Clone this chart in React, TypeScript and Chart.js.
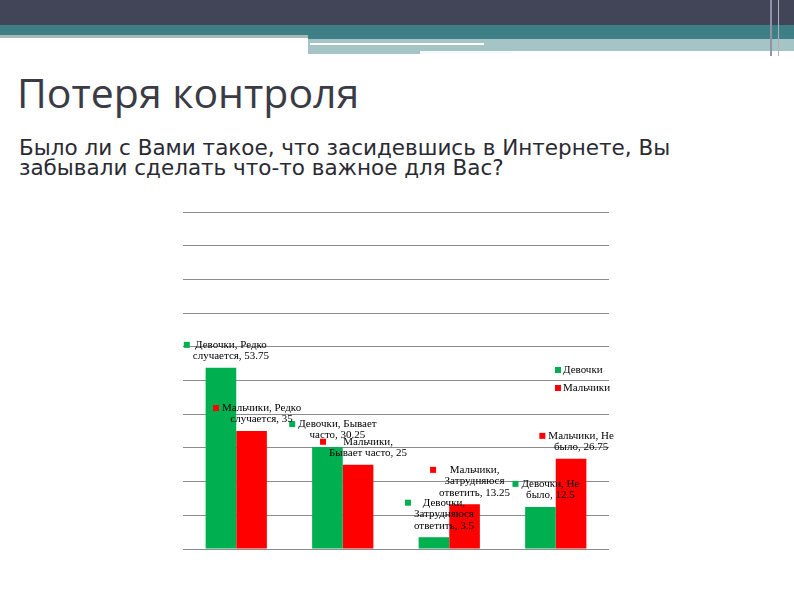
import React, { useEffect, useRef } from 'react';
import Chart from 'chart.js/auto';

// categories (answers) and the two series
const categories = ['Редко случается', 'Бывает часто', 'Затрудняюся ответить', 'Не было'];
const seriesNames = ['Девочки', 'Мальчики'];
const girls = [53.75, 30.25, 3.5, 12.5];
const boys = [35, 25, 13.25, 26.75];
// how each data label breaks into lines (series, category, value)
const girlsLabelLines = [
    ['Девочки, Редко', 'случается, 53.75'],
    ['Девочки, Бывает', 'часто, 30.25'],
    ['Девочки,', 'Затрудняюся', 'ответить, 3.5'],
    ['Девочки, Не', 'было, 12.5'],
];
const boysLabelLines = [
    ['Мальчики, Редко', 'случается, 35'],
    ['Мальчики,', 'Бывает часто, 25'],
    ['Мальчики,', 'Затрудняюся', 'ответить, 13.25'],
    ['Мальчики, Не', 'было, 26.75'],
];
const yMax = 100;
const yStep = 10;

const GREEN = '#00b050';
const RED = '#ff0000';
const LABEL_FONT = '11px "Liberation Serif", "DejaVu Serif", serif';

const labelsPlugin = {
    id: 'slideLabels',
    afterDatasetsDraw(chart: any) {
        const ctx = chart.ctx as CanvasRenderingContext2D;
        const allLines = [girlsLabelLines, boysLabelLines];
        ctx.save();
        ctx.font = LABEL_FONT;
        ctx.textBaseline = 'middle';
        ctx.textAlign = 'center';
        const lh = 11.5;
        chart.data.datasets.forEach((ds: any, di: number) => {
            const meta = chart.getDatasetMeta(di);
            meta.data.forEach((bar: any, i: number) => {
                const lines = allLines[di][i];
                const cx = bar.x + 10;
                const lastY = bar.y - 11.5;
                const firstY = lastY - (lines.length - 1) * lh;
                const w = Math.max(...lines.map((l: string) => ctx.measureText(l).width));
                ctx.fillStyle = ds.backgroundColor;
                ctx.fillRect(cx - w / 2 - 9, firstY - 3, 6, 6);
                ctx.fillStyle = '#000';
                lines.forEach((l: string, k: number) => ctx.fillText(l, cx, firstY + k * lh));
            });
        });
        // legend, inside the plot on the right
        const area = chart.chartArea;
        ctx.textAlign = 'left';
        chart.data.datasets.forEach((ds: any, di: number) => {
            const y = area.top + 158 + di * 18;
            const x = area.right - 54;
            ctx.fillStyle = ds.backgroundColor;
            ctx.fillRect(x, y - 3, 6, 6);
            ctx.fillStyle = '#000';
            ctx.fillText(ds.label, x + 8, y);
        });
        ctx.restore();
    },
};

const BarChart: React.FC = () => {
    const canvasRef = useRef<HTMLCanvasElement>(null);
    const chartRef = useRef<Chart | null>(null);

    useEffect(() => {
        if (!canvasRef.current) return;
        if (chartRef.current) chartRef.current.destroy();
        chartRef.current = new Chart(canvasRef.current, {
            type: 'bar',
            data: {
                labels: categories,
                datasets: [
                    { label: seriesNames[0], data: girls, backgroundColor: GREEN, barPercentage: 1, categoryPercentage: 0.575 },
                    { label: seriesNames[1], data: boys, backgroundColor: RED, barPercentage: 1, categoryPercentage: 0.575 },
                ],
            },
            options: {
                responsive: false,
                animation: false,
                layout: { padding: { left: 10, right: 24, top: 12, bottom: 11 } },
                plugins: { legend: { display: false }, tooltip: { enabled: false } },
                scales: {
                    x: {
                        ticks: { display: false },
                        grid: { display: false, drawTicks: false },
                        border: { display: false },
                    },
                    y: {
                        min: 0,
                        max: yMax,
                        ticks: { display: false, stepSize: yStep },
                        grid: { color: '#8c8c8c', lineWidth: 1, drawTicks: false },
                        border: { display: false },
                    },
                },
            },
            plugins: [labelsPlugin],
        });
        return () => {
            if (chartRef.current) {
                chartRef.current.destroy();
                chartRef.current = null;
            }
        };
    }, []);

    return (
        <canvas
            ref={canvasRef}
            width={460}
            height={360}
            style={{ position: 'absolute', left: 173, top: 200, width: 460, height: 360 }}
        />
    );
};

const App: React.FC = () => {
    return (
        <div style={{ position: 'absolute', left: 0, top: 0, width: 794, height: 595, background: '#fff', overflow: 'hidden', fontFamily: '"Open Sans", sans-serif' }}>
            {/* header bands */}
            <div style={{ position: 'absolute', left: 0, top: 0, width: 794, height: 25, background: '#424457' }} />
            <div style={{ position: 'absolute', left: 0, top: 25, width: 794, height: 10, background: '#3e7f86' }} />
            <div style={{ position: 'absolute', left: 0, top: 35, width: 308, height: 3, background: '#a9b8b9' }} />
            <div style={{ position: 'absolute', left: 308, top: 35, width: 486, height: 4, background: '#41808a' }} />
            <div style={{ position: 'absolute', left: 308, top: 39, width: 486, height: 15, background: '#a4c4c6' }} />
            <div style={{ position: 'absolute', left: 310, top: 43, width: 174, height: 2, background: '#ffffff' }} />
            <div style={{ position: 'absolute', left: 420, top: 51, width: 92, height: 3, background: '#f4fafa' }} />
            <div style={{ position: 'absolute', left: 512, top: 51, width: 282, height: 3, background: '#ffffff' }} />
            <div style={{ position: 'absolute', left: 770, top: 0, width: 2, height: 56, background: '#8f93a3' }} />
            <div style={{ position: 'absolute', left: 778, top: 0, width: 1, height: 56, background: '#aeb2be' }} />

            <div style={{ position: 'absolute', left: 17, top: 64, fontSize: 41, lineHeight: '56px', color: '#3a3b45', whiteSpace: 'nowrap' }}>
                Потеря контроля
            </div>
            <div style={{ position: 'absolute', left: 19, top: 138, fontSize: 21.5, lineHeight: '20px', fontFamily: '"DejaVu Sans", sans-serif', color: '#2a2a33', whiteSpace: 'nowrap' }}>
                Было ли с Вами такое, что засидевшись в Интернете, Вы
                <br />
                забывали сделать что-то важное для Вас?
            </div>
            <BarChart />
        </div>
    );
};

export default App;
